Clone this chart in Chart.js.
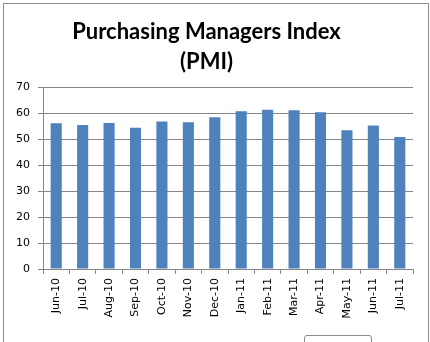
<!DOCTYPE html>
<html>
<head>
<meta charset="utf-8">
<script src="https://cdn.jsdelivr.net/npm/chart.js@4/dist/chart.umd.min.js"></script>
<style>
  html, body { margin: 0; padding: 0; background: #fff; overflow: hidden; }
  #wrap { position: relative; width: 430px; height: 342px; }
  #frame { position: absolute; left: 3px; top: 3px; width: 424px; height: 360px; border: 1px solid #8c8c8c; }
  #btn { position: absolute; left: 304px; top: 335px; width: 66px; height: 14px; border: 1px solid #8c8c8c; border-radius: 3px; background: #fff; }
  canvas { position: absolute; left: 0; top: 0; }
</style>
</head>
<body>
<div id="wrap">
  <div id="frame"></div>
  <canvas id="pmiChart" width="430" height="342"></canvas>
  <div id="btn"></div>
</div>
<script>
const months = ['Jun-10', 'Jul-10', 'Aug-10', 'Sep-10', 'Oct-10', 'Nov-10', 'Dec-10',
                'Jan-11', 'Feb-11', 'Mar-11', 'Apr-11', 'May-11', 'Jun-11', 'Jul-11'];
const pmi = [56.2, 55.5, 56.3, 54.4, 56.9, 56.6, 58.5, 60.8, 61.4, 61.2, 60.4, 53.5, 55.3, 50.9];
const titleLines = ['Purchasing Managers Index', '(PMI)'];

const gridGray = '#868686';
const tickFont = { family: '"DejaVu Sans", Verdana, sans-serif', size: 11 };

new Chart(document.getElementById('pmiChart'), {
    type: 'bar',
    data: {
        labels: months,
        datasets: [{
            label: 'PMI',
            data: pmi,
            backgroundColor: '#4f81bd',
            barPercentage: 0.42,
            categoryPercentage: 1
        }]
    },
    options: {
        responsive: false,
        animation: false,
        layout: { padding: { left: 0, right: 17, top: 3, bottom: 0 } },
        plugins: {
            legend: { display: false },
            tooltip: { enabled: false },
            title: {
                display: true,
                text: titleLines,
                color: '#000',
                font: { family: 'Lato, Calibri, "Open Sans", sans-serif', size: 22, weight: 'bold', lineHeight: 1.35 },
                padding: { top: 14, bottom: 11 }
            }
        },
        scales: {
            x: {
                grid: {
                    display: true,
                    offset: true,
                    drawOnChartArea: false,
                    drawTicks: true,
                    tickLength: 5,
                    color: gridGray
                },
                border: { color: gridGray },
                ticks: {
                    color: '#000',
                    font: tickFont,
                    minRotation: 90,
                    maxRotation: 90,
                    padding: 4,
                    autoSkip: false
                },
                afterFit(scale) { scale.height = 73; }
            },
            y: {
                min: 0,
                max: 70,
                grid: {
                    color: gridGray,
                    drawTicks: true,
                    tickLength: 5
                },
                border: { color: gridGray },
                ticks: {
                    stepSize: 10,
                    color: '#000',
                    font: tickFont,
                    padding: 8
                },
                afterFit(scale) { scale.width = 43; }
            }
        }
    }
});
</script>
</body>
</html>
